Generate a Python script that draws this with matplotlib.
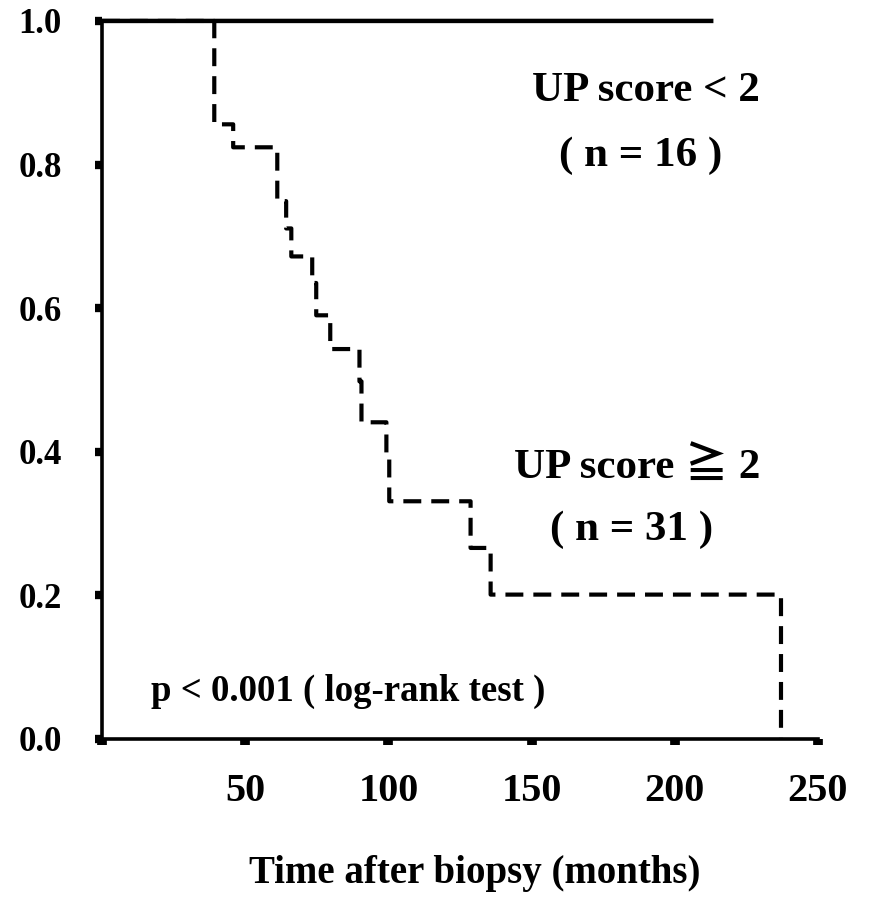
import matplotlib
matplotlib.use("Agg")
import matplotlib.pyplot as plt

plt.rcParams['font.family'] = ['Liberation Serif', 'Noto Sans CJK JP', 'DejaVu Sans']
plt.rcParams['font.weight'] = 'bold'

# UP score < 2 : no events during follow-up
low_time = [0, 213.5]
low_surv = [1.0, 1.0]

# UP score >= 2 : Kaplan-Meier steps (time in months, survival after step)
high_time = [0, 39.2, 45.8, 61.2, 64.3, 66.1, 73.4, 74.8, 79.7, 89.9, 90.6, 99.3, 100.3, 128.7, 135.7, 237.1]
high_surv = [1.0, 0.856, 0.824, 0.749, 0.711, 0.672, 0.635, 0.590, 0.543, 0.498, 0.441, 0.399, 0.331, 0.266, 0.201, 0.0]

xticks = [0, 50, 100, 150, 200, 250]
xtick_labels = ['', '50', '100', '150', '200', '250']
yticks = [0.0, 0.2, 0.4, 0.6, 0.8, 1.0]
ytick_labels = ['0.0', '0.2', '0.4', '0.6', '0.8', '1.0']

fig = plt.figure(figsize=(8.72, 9.10), dpi=100)
ax = fig.add_axes([0.117, 0.188, 0.821, 0.789])

ax.step(low_time, low_surv, where='post', color='black', lw=3.2,
        solid_capstyle='butt', zorder=3, clip_on=False, snap=False)
ax.step(high_time, high_surv, where='post', color='black', lw=3.0,
        dashes=(4.3, 2.4), zorder=2, clip_on=False, snap=False)

ax.set_xlim(0, 250)
ax.set_ylim(0, 1.0)
ax.set_xticks(xticks)
ax.set_xticklabels(xtick_labels)
ax.set_yticks(yticks)
ax.set_yticklabels(ytick_labels)

for side in ['top', 'right']:
    ax.spines[side].set_visible(False)
for side in ['left', 'bottom']:
    ax.spines[side].set_linewidth(2.6)
    ax.spines[side].set_zorder(4)

ax.tick_params(axis='y', direction='out', length=5, width=6, pad=24, labelsize=25)
ax.tick_params(axis='x', direction='out', length=4.5, width=7, pad=20, labelsize=29)
for lbl in ax.get_xticklabels() + ax.get_yticklabels():
    lbl.set_fontweight('bold')

ax.set_xlabel('Time after biopsy (months)', fontsize=28, fontweight='bold')
ax.xaxis.set_label_coords(0.521, -0.162)

ax.text(190, 0.902, 'UP score < 2', fontsize=31, fontweight='bold', ha='center', va='center')
ax.text(188, 0.812, '( n = 16 )', fontsize=31, fontweight='bold', ha='center', va='center')
ax.text(187, 0.378, 'UP score \u2267 2', fontsize=31, fontweight='bold', ha='center', va='center')
ax.text(185, 0.291, '( n = 31 )', fontsize=31, fontweight='bold', ha='center', va='center')
ax.text(86, 0.066, 'p < 0.001 ( log-rank test )', fontsize=26.5, fontweight='bold', ha='center', va='center')

fig.savefig('out.png', dpi=100)
